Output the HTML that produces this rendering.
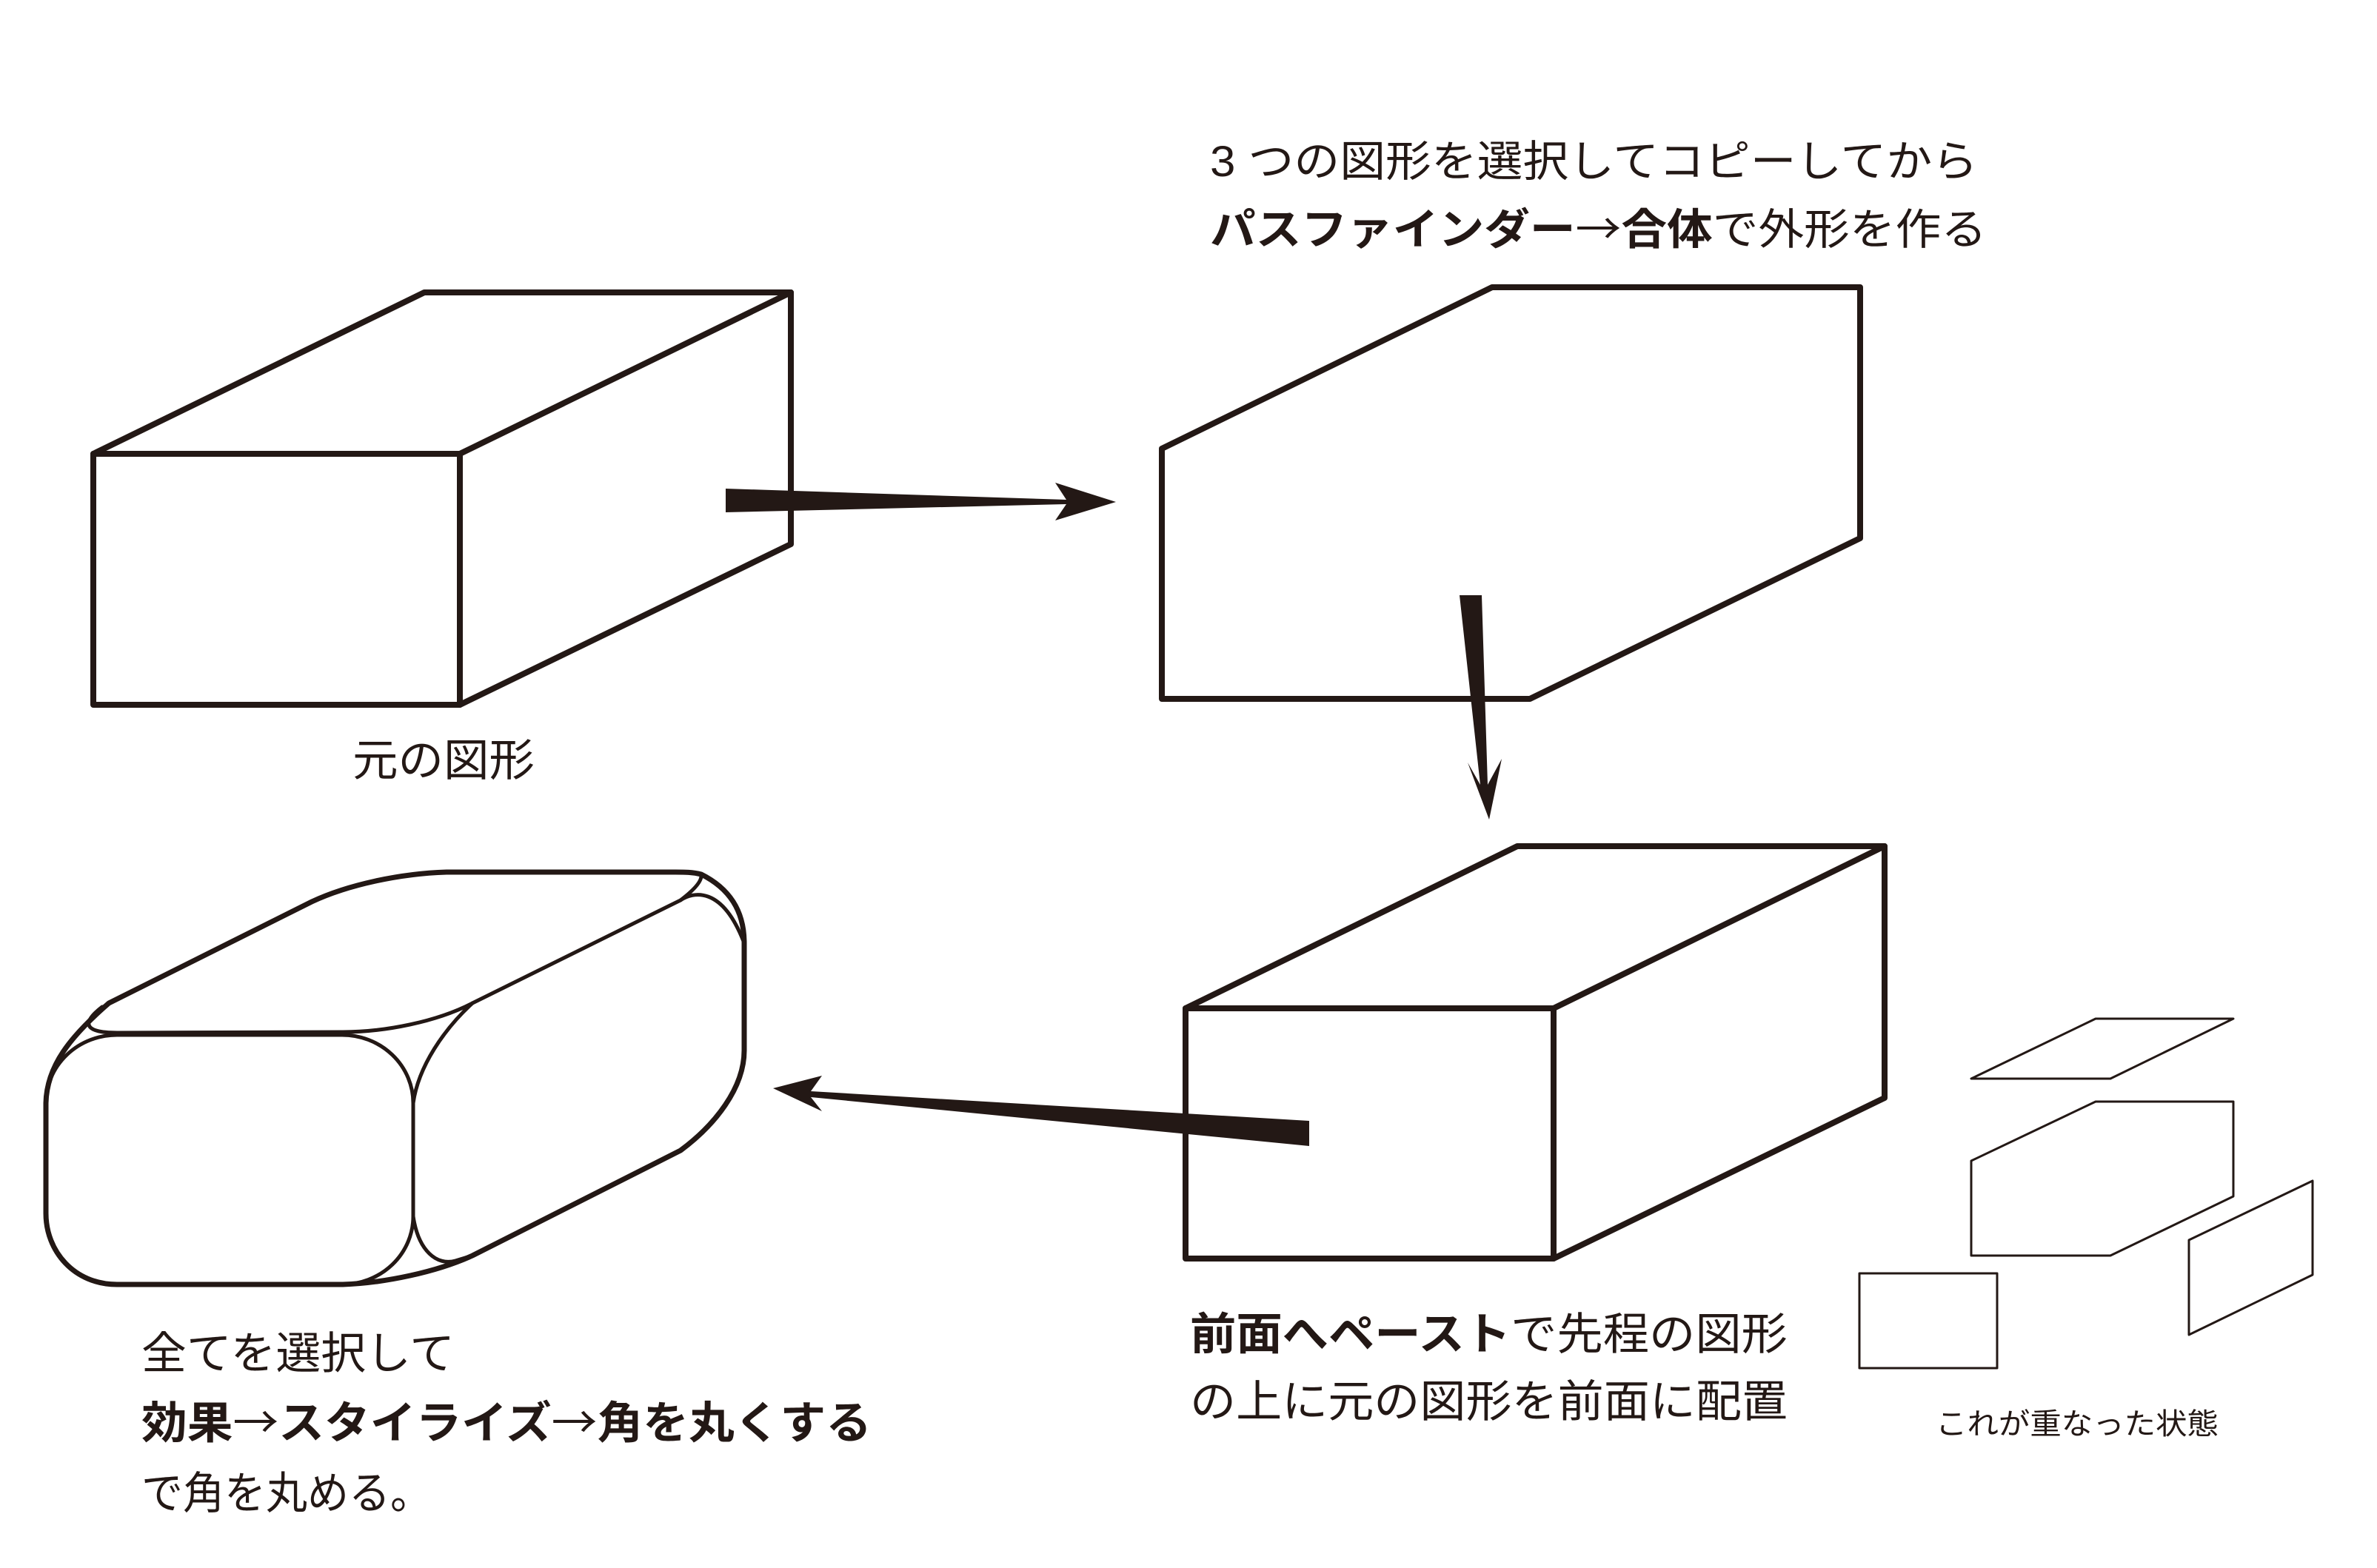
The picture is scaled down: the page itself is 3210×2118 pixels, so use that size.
<!DOCTYPE html>
<html><head><meta charset="utf-8"><style>
html,body{margin:0;padding:0;background:#fff;}
svg{display:block;}
text{font-family:"Liberation Sans","Noto Sans CJK JP",sans-serif;fill:#231815;}
.ar{font-family:"Noto Sans CJK JP",sans-serif;font-weight:normal;}
</style></head><body>
<svg width="3210" height="2118" viewBox="0 0 3210 2118" xmlns="http://www.w3.org/2000/svg">
<rect width="3210" height="2118" fill="#fff"/>
<g fill="none" stroke="#231815" stroke-linejoin="round" stroke-linecap="round">
<g stroke-width="8">
<polygon points="126,613 621,613 621,952 126,952"/>
<polyline points="126,613 573,395 1068,395 621,613"/>
<polyline points="1068,395 1068,735 621,952"/>
</g>
<polygon stroke-width="8" points="1569,606 2015,388 2512,388 2512,727 2066,944 1569,944"/>
<g stroke-width="8">
<polygon points="1601,1362 2098,1362 2098,1700 1601,1700"/>
<polyline points="1601,1362 2049,1143 2545,1143 2098,1362"/>
<polyline points="2545,1143 2545,1483 2098,1700"/>
</g>
<g stroke-width="3">
<polygon points="2662,1457 2850,1457 3016,1376 2830,1376"/>
<polygon points="2662,1568 2830,1488 3016,1488 3016,1616 2850,1696 2662,1696"/>
<polygon points="2956,1675 3123,1595 3123,1722 2956,1803"/>
<rect x="2511" y="1720" width="186" height="128"/>
</g>
<g stroke-width="7">
<path d="M158,1735 L463,1735 C520,1733 590,1718 638,1696 L919,1554 C965,1520 1005,1470 1005,1419 L1005,1274 C1005,1230 985,1200 947,1181 C935,1178 925,1178 912,1178 L603,1178 C540,1180 470,1195 421,1218 L147,1355 C95,1400 63,1440 62,1490 L62,1639 C62,1690 100,1735 158,1735 Z"/>
</g>
<g stroke-width="5">
<rect x="62" y="1398" width="496" height="337" rx="96" ry="92"/>
<path d="M138,1360 C112,1380 110,1395 158,1395 L463,1394 C520,1394 590,1380 638,1355 L919,1216 C940,1200 947,1190 947,1183"/>
<path d="M919,1216 C935,1205 975,1195 1005,1274"/>
<path d="M638,1355 C600,1390 565,1440 558,1490"/>
<path d="M558,1643 C565,1690 590,1710 615,1703 L638,1696"/>
</g>
</g>
<g fill="#231815">
<polygon points="980,660 1440,675 1425,652 1507,678 1425,703 1440,681 980,692"/>
<polygon points="1971,804 2001,804 2009,1060 2028,1025 2011,1107 1982,1030 1999,1060"/>
<polygon points="1768,1514 1768,1548 1095,1482 1110,1501 1044,1470 1110,1453 1095,1474"/>
</g>
<text x="476" y="1048" font-size="60" textLength="246" lengthAdjust="spacingAndGlyphs">元の図形</text>
<text x="1634" y="238" font-size="58" textLength="1037" lengthAdjust="spacingAndGlyphs">3 つの図形を選択してコピーしてから</text>
<text x="1634" y="330" font-size="58" textLength="1049" lengthAdjust="spacingAndGlyphs"><tspan font-weight="bold">パスファインダー</tspan><tspan class="ar">→</tspan><tspan font-weight="bold">合体</tspan>で外形を作る</text>
<text x="1607" y="1823" font-size="60" textLength="807" lengthAdjust="spacingAndGlyphs"><tspan font-weight="bold">前面へペースト</tspan>で先程の図形</text>
<text x="1607" y="1914" font-size="60" textLength="807" lengthAdjust="spacingAndGlyphs">の上に元の図形を前面に配置</text>
<text x="2614" y="1937" font-size="40" textLength="382" lengthAdjust="spacingAndGlyphs">これが重なった状態</text>
<text x="191" y="1849" font-size="60" textLength="423" lengthAdjust="spacingAndGlyphs">全てを選択して</text>
<text x="191" y="1943" font-size="60" textLength="986" lengthAdjust="spacingAndGlyphs"><tspan font-weight="bold">効果</tspan><tspan class="ar">→</tspan><tspan font-weight="bold">スタイライズ</tspan><tspan class="ar">→</tspan><tspan font-weight="bold">角を丸くする</tspan></text>
<text x="191" y="2038" font-size="60" textLength="392" lengthAdjust="spacingAndGlyphs">で角を丸める。</text>
</svg>
</body></html>
